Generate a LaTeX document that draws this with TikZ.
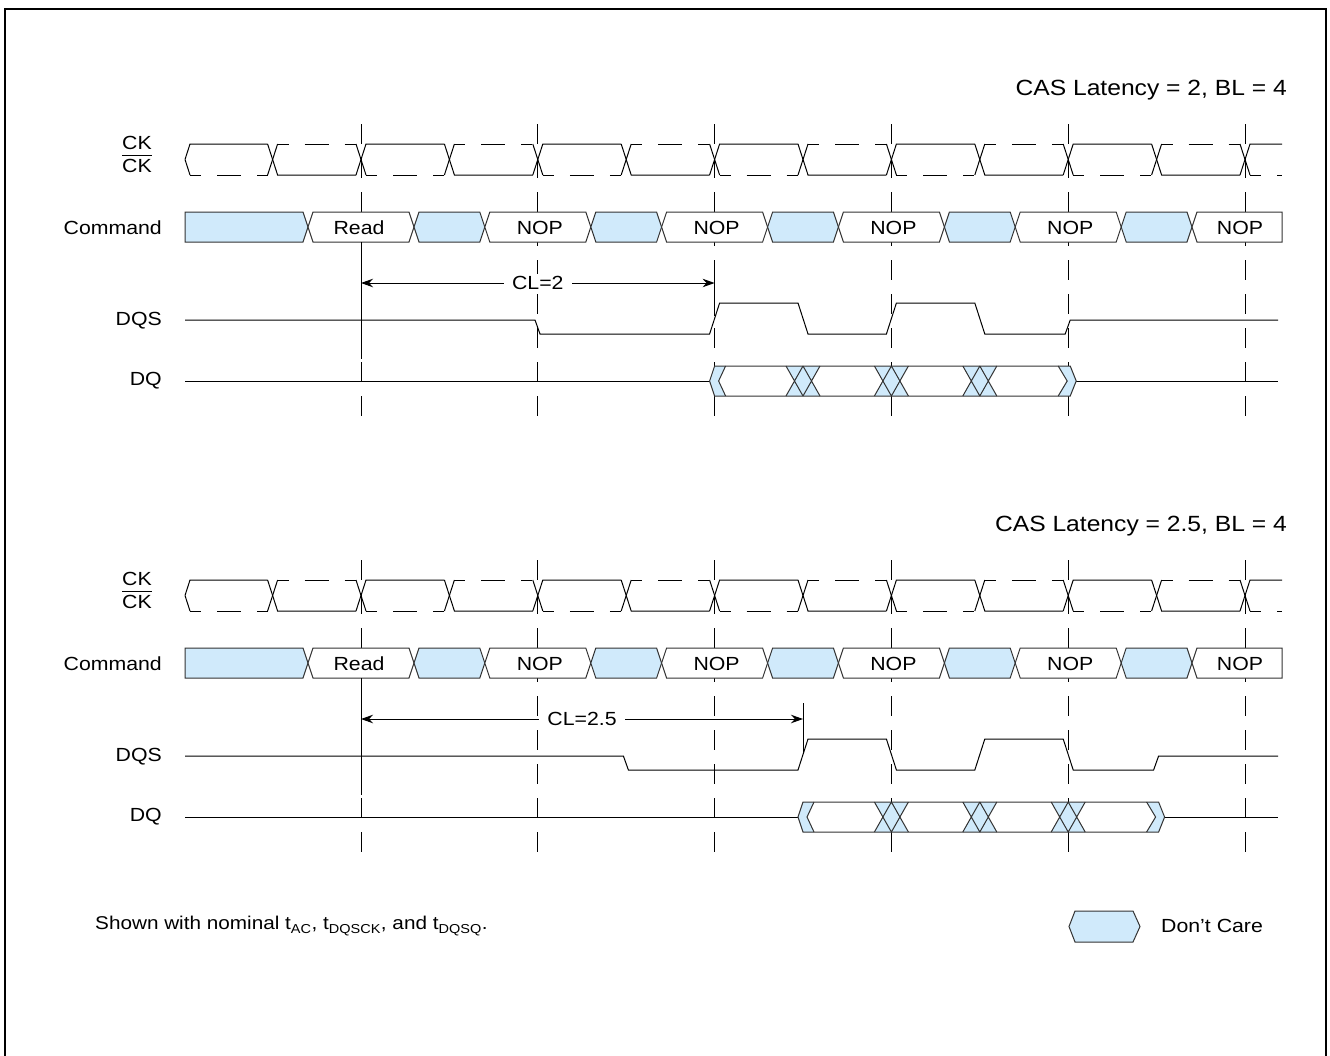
\documentclass[tikz,border=0pt]{standalone}
\usepackage{fontspec}
\setmainfont[FakeStretch=1.12]{Liberation Sans}
\usetikzlibrary{arrows.meta}
\definecolor{dcblue}{RGB}{208,234,251}
\begin{document}
\begin{tikzpicture}[x=1pt,y=-1pt,
  wave/.style={line width=1pt,black,line join=miter},
  ckdash/.style={dash pattern=on 11pt off 16pt on 24pt off 16pt},
  box/.style={draw=black!80,line width=1pt,line join=miter},
  dc/.style={box,fill=dcblue},
  vd/.style={line width=1pt,black,dash pattern=on 20pt off 14pt},
  lbl/.style={font=\fontsize{19}{22}\selectfont,inner sep=0pt},
  ttl/.style={font=\fontsize{22}{25}\selectfont,inner sep=0pt},
  nt/.style={font=\fontsize{18.5}{22}\selectfont,inner sep=0pt},
  cl/.style={line width=1pt,{Stealth[length=12pt,width=8.5pt]}-{Stealth[length=12pt,width=8.5pt]}}
]
\useasboundingbox (0,0) rectangle (1330,1055);
\draw[line width=1.3pt] (5,1056) -- (5,9) -- (1326,9) -- (1326,1056);

\foreach \d/\yo/\sh/\lat in {a/0/0/2, b/436/88.4/2.5} {
\begin{scope}[shift={(0,\yo)}]
  % clock edge guide lines
  \foreach \k in {0,...,5} {
    \pgfmathsetmacro\e{361+176.8*\k}
    \draw[vd] (\e,124) -- (\e,425);
  }
  % CK (solid) and CK# (dashed)
  \draw[wave] (185,159.5) -- (190,144) -- (267.6,144);
  \draw[wave] (185,159.5) -- (190,175);
  \draw[wave,ckdash] (190,175) -- (267.6,175);
  \foreach \j in {0,2,...,10} {
    \pgfmathsetmacro\c{272.6+88.4*\j}
    \draw[wave] (\c-5,144) -- (\c+5,175) -- (\c+83.4,175);
    \draw[wave] (\c-5,175) -- (\c+5,144);
    \draw[wave,ckdash] (\c+5,144) -- (\c+83.4,144);
  }
  \foreach \j in {1,3,...,11} {
    \pgfmathsetmacro\c{272.6+88.4*\j}
    \pgfmathsetmacro\n{min(\c+83.4,1282)}
    \draw[wave] (\c-5,175) -- (\c+5,144) -- (\n,144);
    \draw[wave] (\c-5,144) -- (\c+5,175);
    \draw[wave,ckdash] (\c+5,175) -- (\n,175);
  }
  % Command row
  \draw[dc] (185,212) -- (303,212) -- (308,227) -- (303,242) -- (185,242) -- cycle;
  \foreach \k in {0,...,4} {
    \pgfmathsetmacro\e{361+176.8*\k}
    \draw[box,fill=white] (\e-53,227) -- (\e-48,212) -- (\e+48,212) -- (\e+53,227) -- (\e+48,242) -- (\e-48,242) -- cycle;
    \draw[dc] (\e+53,227) -- (\e+58,212) -- (\e+118.8,212) -- (\e+123.8,227) -- (\e+118.8,242) -- (\e+58,242) -- cycle;
  }
  \draw[box,fill=white] (1192,227) -- (1197,212) -- (1282,212) -- (1282,242) -- (1197,242) -- cycle;
  \node[lbl] (read\d) at (359,228) {Read};
  \foreach \k in {1,...,4} {
    \pgfmathsetmacro\e{361+176.8*\k}
    \node[lbl] (nop\k\d) at (\e+2,228) {NOP};
  }
  \node[lbl] (nop5\d) at (1240,228) {NOP};
  % reference lines and CL arrow
  \draw[line width=1pt] (361,242) -- (361,359);
  \draw[line width=1pt] (714.6+\sh,267) -- (714.6+\sh,316);
  \coordinate (cls\d) at (361,283);
  \coordinate (cle\d) at (714.6+\sh,283);
  \draw[cl] (cls\d) -- (cle\d) node[midway,lbl,fill=white,inner xsep=8pt,inner ysep=2pt] (cltext\d) {CL=\lat};
  % DQS
  \draw[wave] (185,320) -- (535+\sh,320) -- (540+\sh,334) -- (709.6+\sh,334) -- (719.6+\sh,303)
     -- (798+\sh,303) -- (808+\sh,334) -- (886.4+\sh,334) -- (896.4+\sh,303)
     -- (974.8+\sh,303) -- (984.8+\sh,334) -- (1065.2+\sh,334) -- (1070.2+\sh,320) -- (1278,320);
  % DQ
  \pgfmathsetmacro\b{714.6+\sh}
  \pgfmathsetmacro\f{\b+353.6}
  \draw[wave] (185,381) -- (\b-5,381);
  \draw[wave] (\f+8,381) -- (1278,381);
  \fill[dcblue] (\b,366) -- (\b+11,366) -- (\b+4,381) -- (\b+11,396) -- (\b,396) -- (\b-5,381) -- cycle;
  \fill[dcblue] (\f-10,366) -- (\f+2,366) -- (\f+8,381) -- (\f+2,396) -- (\f-10,396) -- (\f-1,381) -- cycle;
  \foreach \i in {1,2,3} {
    \pgfmathsetmacro\c{\b+88.4*\i}
    \fill[dcblue] (\c-17,366) -- (\c+17,366) -- (\c+8.5,381) -- (\c+17,396) -- (\c-17,396) -- (\c-8.5,381) -- cycle;
    \draw[box] (\c-17,366) -- (\c,396) (\c-17,396) -- (\c,366)
               (\c,366) -- (\c+17,396) (\c,396) -- (\c+17,366);
  }
  \draw[box] (\b-5,381) -- (\b,366) -- (\f+2,366) -- (\f+8,381) -- (\f+2,396) -- (\b,396) -- cycle;
  \draw[box] (\b+11,366) -- (\b+4,381) -- (\b+11,396);
  \draw[box] (\f-10,366) -- (\f-1,381) -- (\f-10,396);
  % labels
  \node[lbl] (ck\d) at (137,143) {CK};
  \node[lbl] (ckb\d) at (137,166) {CK};
  \draw[line width=1.2pt] ([yshift=3.5pt]ckb\d.north west) -- ([yshift=3.5pt]ckb\d.north east);
  \node[lbl,anchor=east] (cmd\d) at (162,228) {Command};
  \node[lbl,anchor=east] (dqs\d) at (162,321) {DQS};
  \node[lbl,anchor=east] (dq\d) at (162,381) {DQ};
  \node[ttl,anchor=east] (title\d) at (1287,90) {CAS Latency = \lat, BL = 4};
\end{scope}
}

% footnote and legend
\node[nt,anchor=west] (note) at (95,926) {Shown with nominal t\textsubscript{AC}, t\textsubscript{DQSCK}, and t\textsubscript{DQSQ}.};
\draw[dc] (1069,926.5) -- (1075,911) -- (1133,911) -- (1140,926.5) -- (1133,942) -- (1075,942) -- cycle;
\node[lbl,anchor=west] (dontcare) at (1161,926) {Don’t Care};
\end{tikzpicture}
\end{document}
